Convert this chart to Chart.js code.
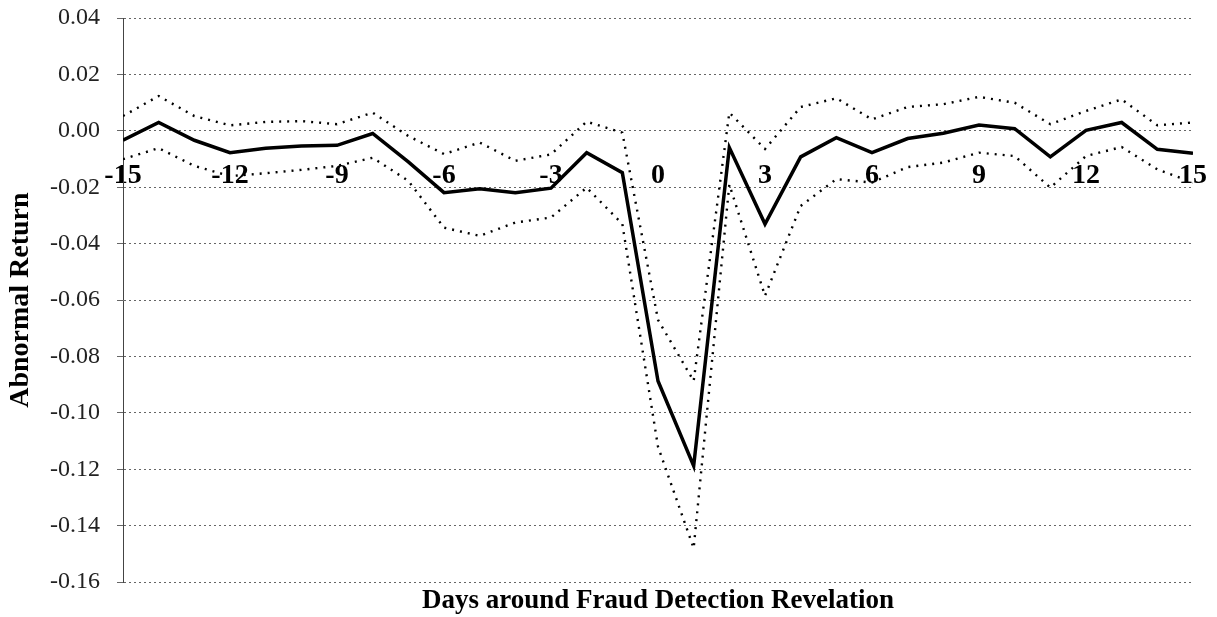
<!DOCTYPE html>
<html>
<head>
<meta charset="utf-8">
<script src="https://cdn.jsdelivr.net/npm/chart.js@4/dist/chart.umd.min.js"></script>
<style>
  html, body { margin: 0; padding: 0; background: #fff; }
  #wrap { width: 1217px; height: 617px; position: relative; }
</style>
</head>
<body>
<div id="wrap"><canvas id="myChart"></canvas></div>
<script>
// Days relative to the fraud detection revelation
const days = [-15, -14, -13, -12, -11, -10, -9, -8, -7, -6, -5, -4, -3, -2, -1,
              0, 1, 2, 3, 4, 5, 6, 7, 8, 9, 10, 11, 12, 13, 14, 15];

// Mean abnormal return (solid line)
const meanReturn = [-0.0033, 0.0030, -0.0033, -0.0077, -0.0061, -0.0053, -0.0051, -0.0009, -0.0110, -0.0219,
                    -0.0205, -0.0219, -0.0203, -0.0077, -0.0148, -0.0887, -0.1188, -0.0059, -0.0330, -0.0092,
                    -0.0024, -0.0077, -0.0027, -0.0008, 0.0021, 0.0008, -0.0092, 0.0002, 0.0030, -0.0065, -0.0079];

// Upper confidence band (dotted line)
const upperBand = [0.0053, 0.0124, 0.0053, 0.0020, 0.0032, 0.0035, 0.0024, 0.0065, -0.0018, -0.0082,
                   -0.0041, -0.0106, -0.0083, 0.0033, -0.0006, -0.0670, -0.0887, 0.0065, -0.0064, 0.0085,
                   0.0116, 0.0041, 0.0085, 0.0095, 0.0121, 0.0100, 0.0024, 0.0071, 0.0112, 0.0020, 0.0030];

// Lower confidence band (dotted line)
const lowerBand = [-0.0100, -0.0061, -0.0124, -0.0160, -0.0150, -0.0138, -0.0124, -0.0095, -0.0177, -0.0343,
                   -0.0372, -0.0325, -0.0307, -0.0201, -0.0330, -0.1120, -0.1480, -0.0190, -0.0585, -0.0266,
                   -0.0171, -0.0183, -0.0128, -0.0112, -0.0077, -0.0089, -0.0201, -0.0089, -0.0057, -0.0136, -0.0183];

// Tick labels
const dayTicks = [-15, -12, -9, -6, -3, 0, 3, 6, 9, 12, 15];
const returnTicks = [-0.16, -0.14, -0.12, -0.10, -0.08, -0.06, -0.04, -0.02, 0.00, 0.02, 0.04];

const serif = "'Liberation Serif', 'DejaVu Serif', serif";
const ctx = document.getElementById('myChart').getContext('2d');

const toPoints = vals => days.map((d, i) => ({ x: d, y: vals[i] }));

new Chart(ctx, {
    type: 'line',
    data: {
        datasets: [
            {
                label: 'Mean',
                data: toPoints(meanReturn),
                borderColor: '#000',
                borderWidth: 3.5,
                pointRadius: 0,
                tension: 0
            },
            {
                label: 'Upper',
                data: toPoints(upperBand),
                borderColor: '#000',
                borderWidth: 2.4,
                borderDash: [2, 6],
                pointRadius: 0,
                tension: 0
            },
            {
                label: 'Lower',
                data: toPoints(lowerBand),
                borderColor: '#000',
                borderWidth: 2.4,
                borderDash: [2, 6],
                pointRadius: 0,
                tension: 0
            }
        ]
    },
    options: {
        responsive: true,
        maintainAspectRatio: false,
        animation: false,
        layout: { padding: { top: 18, right: 24, bottom: 0, left: 0 } },
        plugins: {
            legend: { display: false },
            tooltip: { enabled: false }
        },
        scales: {
            // day labels sit just under the zero line
            x: {
                type: 'linear',
                position: { y: 0 },
                min: -15,
                max: 15,
                afterBuildTicks: scale => { scale.ticks = dayTicks.map(v => ({ value: v })); },
                grid: { display: false, drawTicks: true, tickLength: 27 },
                border: { display: false },
                ticks: {
                    padding: 1,
                    color: '#000',
                    font: { family: serif, size: 28, weight: 'bold' },
                    maxRotation: 0,
                    autoSkip: false,
                    callback: v => String(v)
                }
            },
            // bottom axis only carries the title
            x2: {
                type: 'linear',
                position: 'bottom',
                min: -15,
                max: 15,
                grid: { display: false, drawTicks: false },
                border: { display: false },
                ticks: { display: false },
                title: {
                    display: true,
                    text: 'Days around Fraud Detection Revelation',
                    color: '#000',
                    font: { family: serif, size: 27, weight: 'bold' },
                    padding: { top: 4, bottom: 0 }
                },
                afterFit: scale => { scale.height = 35; }
            },
            y: {
                type: 'linear',
                min: -0.16,
                max: 0.04,
                afterBuildTicks: scale => { scale.ticks = returnTicks.map(v => ({ value: v })); },
                grid: {
                    color: 'rgba(0,0,0,0.6)',
                    lineWidth: 1,
                    tickLength: 6,
                    drawTicks: true
                },
                border: { display: true, color: '#444', width: 1, dash: [2, 3] },
                ticks: {
                    padding: 17,
                    color: '#222',
                    font: { family: serif, size: 24, lineHeight: 0.1 },
                    callback: v => (Math.abs(v) < 1e-9 ? 0 : v).toFixed(2)
                },
                title: {
                    display: true,
                    text: 'Abnormal Return',
                    color: '#000',
                    font: { family: serif, size: 28, weight: 'bold' },
                    padding: { top: 4, bottom: 4 }
                },
                afterFit: scale => { scale.width = 123; }
            }
        }
    }
});
</script>
</body>
</html>
